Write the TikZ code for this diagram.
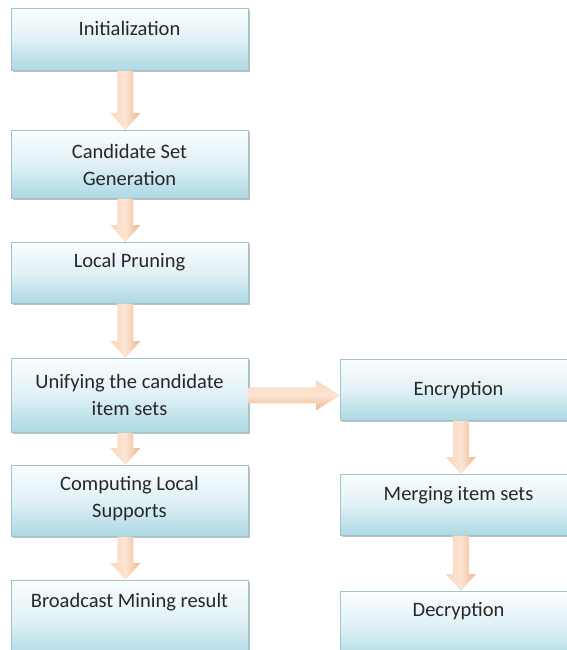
\documentclass[tikz,border=0pt]{standalone}
\usepackage{fontspec}
\setmainfont{Carlito}
\usetikzlibrary{calc,shadows}
\definecolor{boxtop}{RGB}{250,253,254}
\definecolor{boxmid}{RGB}{224,241,246}
\definecolor{boxbot}{RGB}{172,216,228}
\definecolor{boxedge}{RGB}{160,196,206}
\definecolor{arrL}{RGB}{249,214,188}
\definecolor{arrM}{RGB}{252,229,211}
\definecolor{arrR}{RGB}{238,180,140}
\definecolor{txtc}{RGB}{40,40,40}
\tikzset{
  box/.style={draw=boxedge, line width=0.7pt, top color=boxtop, bottom color=boxbot, middle color=boxmid,
    minimum width=237pt, anchor=north west, inner sep=0pt,
    drop shadow={shadow xshift=1.5pt, shadow yshift=-2pt, fill=black!45, opacity=0.55}},
  lbl/.style={font=\fontsize{20.5}{27}\selectfont, text=txtc, align=center, inner sep=0pt},
  varr/.style={left color=arrL, right color=arrR, middle color=arrM},
  harr/.style={top color=arrL, bottom color=arrR, middle color=arrM}
}
\newcommand{\vblock}[3]{%
  \shade[varr] ($(#1.south)+(#3-8,0)$) -- ($(#2.north)+(#3-8,-17)$) -- ($(#2.north)+(#3-15,-17)$) --
   ($(#2.north)+(#3,0)$) -- ($(#2.north)+(#3+15,-17)$) -- ($(#2.north)+(#3+8,-17)$) --
   ($(#1.south)+(#3+8,0)$) -- cycle;}
\begin{document}
\begin{tikzpicture}[x=1pt,y=-1pt]
\useasboundingbox (0,0) rectangle (567,650);
\fill[white] (0,0) rectangle (567,650);
\clip (0,0) rectangle (567,650);
% left column
\node[box, minimum height=62pt] (init) at (11,8) {};
\node[box, minimum height=68pt] (cand) at (11,130) {};
\node[box, minimum height=61pt] (prune) at (11,242) {};
\node[box, minimum height=74pt] (unify) at (11,358) {};
\node[box, minimum height=71pt] (comp) at (11,465) {};
\node[box, minimum height=80pt] (bcast) at (11,580) {};
% right column
\node[box, minimum height=61pt] (encr) at (340,359) {};
\node[box, minimum height=61pt] (merge) at (340,474) {};
\node[box, minimum height=70pt] (decr) at (340,591) {};
% labels
\node[lbl] (tinit) at (129.5,28) {Initialization};
\node[lbl] (tcand) at (129.5,165) {Candidate Set\\Generation};
\node[lbl] (tprune) at (129.5,262) {Local Pruning};
\node[lbl] (tunify) at (129.5,394.5) {Unifying the candidate\\item sets};
\node[lbl] (tcomp) at (129.5,499) {Computing Local\\Supports};
\node[lbl] (tbcast) at (129.5,602) {Broadcast Mining result};
\node[lbl] (tencr) at (458.5,390) {Encryption};
\node[lbl] (tmerge) at (458.5,495) {Merging item sets};
\node[lbl] (tdecr) at (458.5,611) {Decryption};
% vertical arrows
\vblock{init}{cand}{-4.5}
\vblock{cand}{prune}{-4.5}
\vblock{prune}{unify}{-4.5}
\vblock{unify}{comp}{-4.5}
\vblock{comp}{bcast}{-4.5}
\vblock{encr}{merge}{2}
\vblock{merge}{decr}{2}
% horizontal arrow
\shade[harr] ($(unify.east)+(0,-8)$) -- ($(encr.west |- unify.east)+(-24,-8)$) -- ($(encr.west |- unify.east)+(-24,-15)$) --
  (encr.west |- unify.east) -- ($(encr.west |- unify.east)+(-24,15)$) -- ($(encr.west |- unify.east)+(-24,8)$) --
  ($(unify.east)+(0,8)$) -- cycle;
\end{tikzpicture}
\end{document}
